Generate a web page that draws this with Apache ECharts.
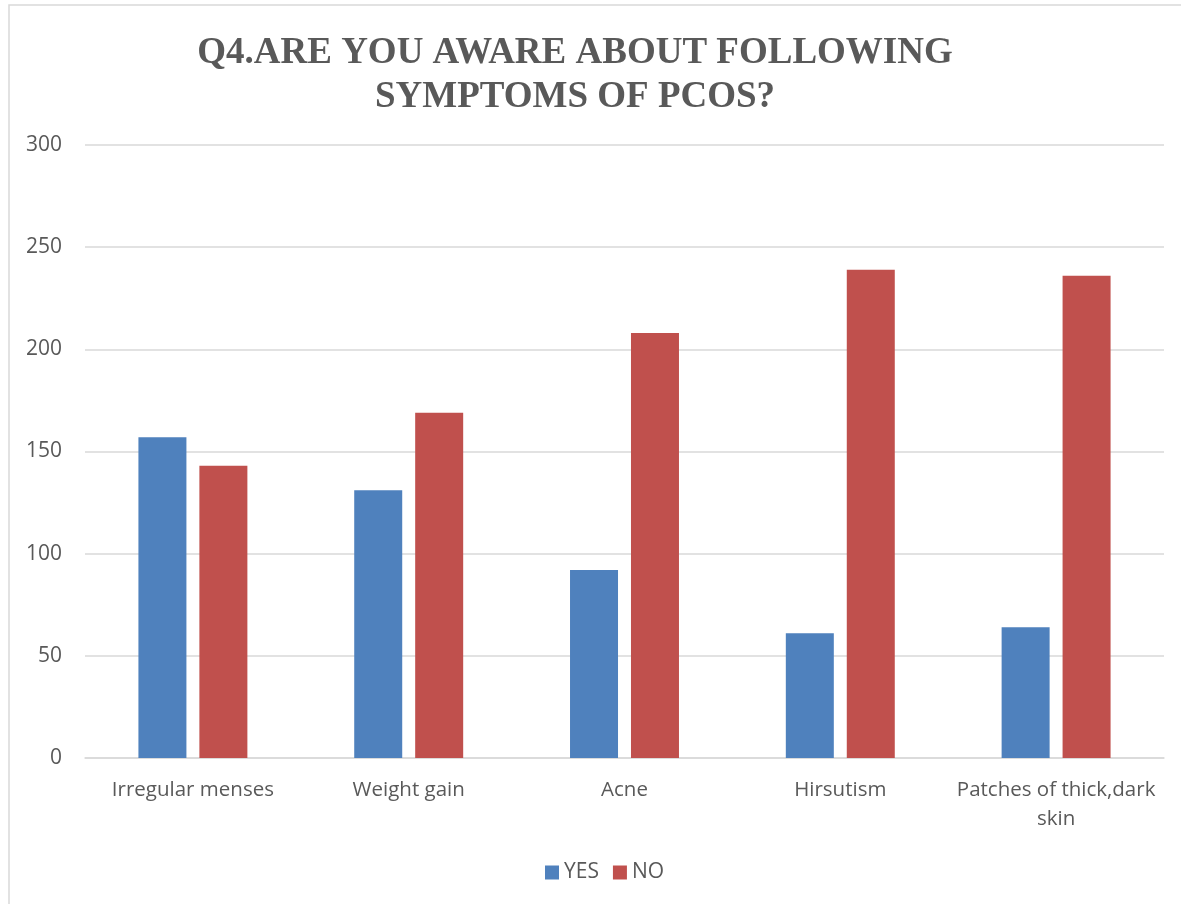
<!DOCTYPE html>
<html>
<head>
<meta charset="utf-8">
<script src="https://cdn.jsdelivr.net/npm/echarts@6/dist/echarts.min.js"></script>
<style>
  html, body { margin: 0; padding: 0; background: #fff; }
  #chart { width: 1181px; height: 904px; }
</style>
</head>
<body>
<div id="chart"></div>
<script>
const titleText = 'Q4.ARE YOU AWARE ABOUT FOLLOWING\nSYMPTOMS OF PCOS?';
const categories = ['Irregular menses', 'Weight gain', 'Acne', 'Hirsutism', 'Patches of thick,dark\nskin'];
const yesValues = [157, 131, 92, 61, 64];
const noValues = [143, 169, 208, 239, 236];
const seriesNames = ['YES', 'NO'];
const yTicks = { min: 0, max: 300, interval: 50 };

const labelFont = '"Open Sans", "Noto Sans", sans-serif';
const chart = echarts.init(document.getElementById('chart'), null, { renderer: 'canvas' });

chart.setOption({
  animation: false,
  backgroundColor: '#ffffff',
  graphic: [
    {
      type: 'rect',
      shape: { x: 9, y: 5, width: 1200, height: 940 },
      style: { fill: 'none', stroke: '#d9d9d9', lineWidth: 1.5 },
      silent: true
    }
  ],
  title: {
    text: titleText,
    left: 570,
    top: 26,
    textAlign: 'center',
    textStyle: {
      fontFamily: '"Liberation Serif", "Times New Roman", serif',
      fontWeight: 'bold',
      fontSize: 37,
      lineHeight: 44,
      color: '#595959'
    }
  },
  legend: {
    data: seriesNames,
    left: 540,
    top: 857,
    itemWidth: 14,
    itemHeight: 14,
    itemGap: 14,
    icon: 'rect',
    textStyle: { fontFamily: labelFont, fontSize: 21, color: '#595959', padding: [0, 0, 0, 0] }
  },
  grid: { left: 85, right: 17, top: 145, bottom: 146, containLabel: false },
  xAxis: {
    type: 'category',
    data: categories,
    axisLine: { show: true, lineStyle: { color: '#d9d9d9', width: 1.5 } },
    axisTick: { show: false },
    axisLabel: {
      interval: 0,
      margin: 18,
      fontFamily: labelFont,
      fontSize: 20.5,
      lineHeight: 29,
      color: '#595959',
      align: 'center'
    }
  },
  yAxis: {
    type: 'value',
    min: yTicks.min,
    max: yTicks.max,
    interval: yTicks.interval,
    axisLine: { show: false },
    axisTick: { show: false },
    splitLine: { lineStyle: { color: '#d9d9d9', width: 1.5 } },
    axisLabel: {
      margin: 23,
      fontFamily: labelFont,
      fontSize: 21,
      color: '#595959'
    }
  },
  series: [
    {
      name: seriesNames[0],
      type: 'bar',
      data: yesValues,
      barWidth: 48,
      barGap: '27%',
      itemStyle: { color: '#4f81bd' }
    },
    {
      name: seriesNames[1],
      type: 'bar',
      data: noValues,
      barWidth: 48,
      barGap: '27%',
      itemStyle: { color: '#c0504d' }
    }
  ]
});
</script>
</body>
</html>
